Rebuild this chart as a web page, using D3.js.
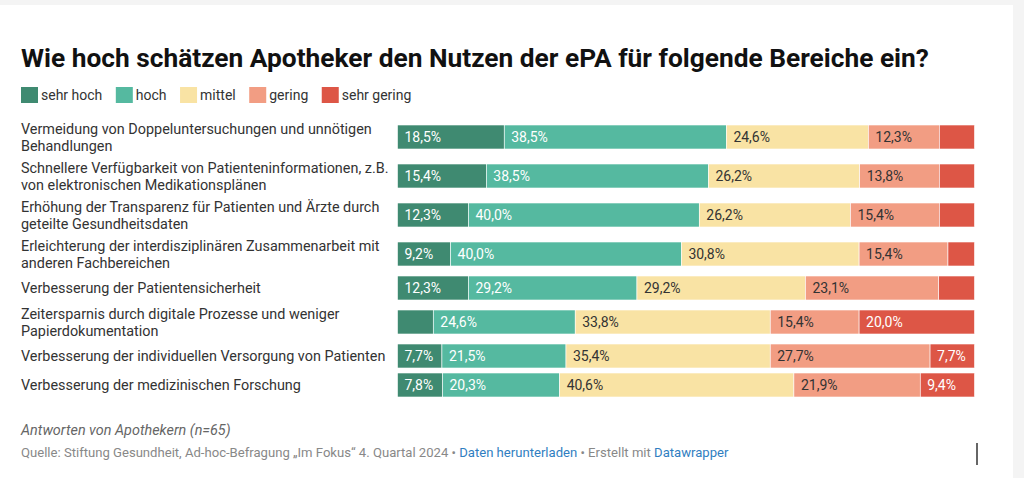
<!DOCTYPE html>
<html>
<head>
<meta charset="utf-8">
<script src="https://cdn.jsdelivr.net/npm/d3@7"></script>
<style>
  html, body { margin: 0; padding: 0; background: #f4f4f4; }
  svg { display: block; font-family: Roboto, "Noto Sans", sans-serif; }
</style>
</head>
<body>
<svg id="chart" width="1024" height="478"></svg>
<script>
// ---- data ----
const categories = [
  "Vermeidung von Doppeluntersuchungen und unnötigen\nBehandlungen",
  "Schnellere Verfügbarkeit von Patienteninformationen, z.B.\nvon elektronischen Medikationsplänen",
  "Erhöhung der Transparenz für Patienten und Ärzte durch\ngeteilte Gesundheitsdaten",
  "Erleichterung der interdisziplinären Zusammenarbeit mit\nanderen Fachbereichen",
  "Verbesserung der Patientensicherheit",
  "Zeitersparnis durch digitale Prozesse und weniger\nPapierdokumentation",
  "Verbesserung der individuellen Versorgung von Patienten",
  "Verbesserung der medizinischen Forschung"
];
const seriesNames = ["sehr hoch", "hoch", "mittel", "gering", "sehr gering"];
const sehrHoch   = [18.5, 15.4, 12.3,  9.2, 12.3,  6.2,  7.7,  7.8];
const hoch       = [38.5, 38.5, 40.0, 40.0, 29.2, 24.6, 21.5, 20.3];
const mittel     = [24.6, 26.2, 26.2, 30.8, 29.2, 33.8, 35.4, 40.6];
const gering     = [12.3, 13.8, 15.4, 15.4, 23.1, 15.4, 27.7, 21.9];
const sehrGering = [ 6.1,  6.1,  6.1,  4.6,  6.2, 20.0,  7.7,  9.4];

const title = "Wie hoch schätzen Apotheker den Nutzen der ePA für folgende Bereiche ein?";
const note = "Antworten von Apothekern (n=65)";
const source = [
  {t: "Quelle: Stiftung Gesundheit, Ad-hoc-Befragung „Im Fokus“ 4. Quartal 2024 • ", link: false},
  {t: "Daten herunterladen", link: true},
  {t: " • Erstellt mit ", link: false},
  {t: "Datawrapper", link: true}
];

// ---- styles ----
const colors = ["#3f8a71", "#55b9a0", "#f9e3a4", "#f29d83", "#dd5646"];
const textColors = ["#ffffff", "#ffffff", "#333333", "#333333", "#ffffff"];

const seriesValues = [sehrHoch, hoch, mittel, gering, sehrGering];
const rows = categories.map((c, i) => {
  let acc = 0;
  const segs = seriesValues.map((arr, k) => {
    const s = {key: seriesNames[k], k, x0: acc, x1: acc + arr[i], v: arr[i]};
    acc += arr[i];
    return s;
  });
  return {cat: c, lines: c.split("\n"), segs};
});

const svg = d3.select("#chart");

// panel
svg.append("rect").attr("x", 0).attr("y", 5).attr("width", 1013).attr("height", 473).attr("fill", "#ffffff");

// title
svg.append("text")
  .attr("x", 21).attr("y", 67)
  .attr("font-size", 26.3).attr("font-weight", 700).attr("fill", "#111")
  .text(title);

// legend
const legend = svg.append("g").attr("transform", "translate(21,87)");
let lx = 0;
seriesNames.forEach((name, k) => {
  const g = legend.append("g").attr("transform", `translate(${lx},0)`);
  g.append("rect").attr("width", 17).attr("height", 16).attr("fill", colors[k]);
  const t = g.append("text").attr("x", 20).attr("y", 8).attr("dy", "0.35em")
    .attr("font-size", 14).attr("fill", "#333").text(name);
  lx += 20 + t.node().getComputedTextLength() + 13.5;
});

// layout: row heights from label line counts
const barH = 24, lineH = 17, gap = 5;
const top0 = 117.5;
let yacc = top0;
const centers = rows.map(r => {
  const h = Math.max(barH, r.lines.length * lineH) + gap;
  const c = yacc + h / 2;
  yacc += h;
  return c;
});
const y = d3.scaleOrdinal().domain(categories).range(centers);
const x = d3.scaleLinear().domain([0, 100]).range([397.5, 974.5]);

// category labels
const labels = svg.append("g");
rows.forEach(r => {
  const n = r.lines.length;
  const t = labels.append("text")
    .attr("x", 21)
    .attr("font-size", 14.4).attr("fill", "#333");
  r.lines.forEach((ln, j) => {
    t.append("tspan")
      .attr("x", 21)
      .attr("y", y(r.cat) + (j - (n - 1) / 2) * lineH)
      .attr("dy", "0.35em")
      .text(ln);
  });
});

// bars
const rowG = svg.append("g").selectAll("g").data(rows).join("g")
  .attr("transform", d => `translate(0,${y(d.cat) - barH / 2})`);

rowG.selectAll("rect").data(d => d.segs).join("rect")
  .attr("x", d => x(d.x0))
  .attr("width", d => x(d.x1) - x(d.x0))
  .attr("y", 0).attr("height", barH)
  .attr("fill", d => colors[d.k])
  .attr("stroke", "#ffffff").attr("stroke-width", 0.6);

const fmt = v => v.toFixed(1).replace(".", ",") + "%";
rowG.selectAll("text").data(d => d.segs.filter(s => s.v >= 7)).join("text")
  .attr("x", d => x(d.x0) + 7)
  .attr("y", barH / 2).attr("dy", "0.35em")
  .attr("font-size", 14)
  .attr("fill", d => textColors[d.k])
  .text(d => fmt(d.v));

// footer
svg.append("text").attr("x", 21).attr("y", 430).attr("dy", "0.35em")
  .attr("font-size", 14.4).attr("font-style", "italic").attr("fill", "#666")
  .text(note);

const src = svg.append("text").attr("x", 21).attr("y", 452).attr("dy", "0.35em")
  .attr("font-size", 13.1).attr("fill", "#888");
source.forEach(s => {
  src.append("tspan").attr("fill", s.link ? "#2f7ec1" : "#888").text(s.t);
});

// caret artifact
svg.append("line").attr("x1", 977).attr("x2", 977).attr("y1", 443).attr("y2", 465)
  .attr("stroke", "#333").attr("stroke-width", 1.5);
</script>
</body>
</html>
